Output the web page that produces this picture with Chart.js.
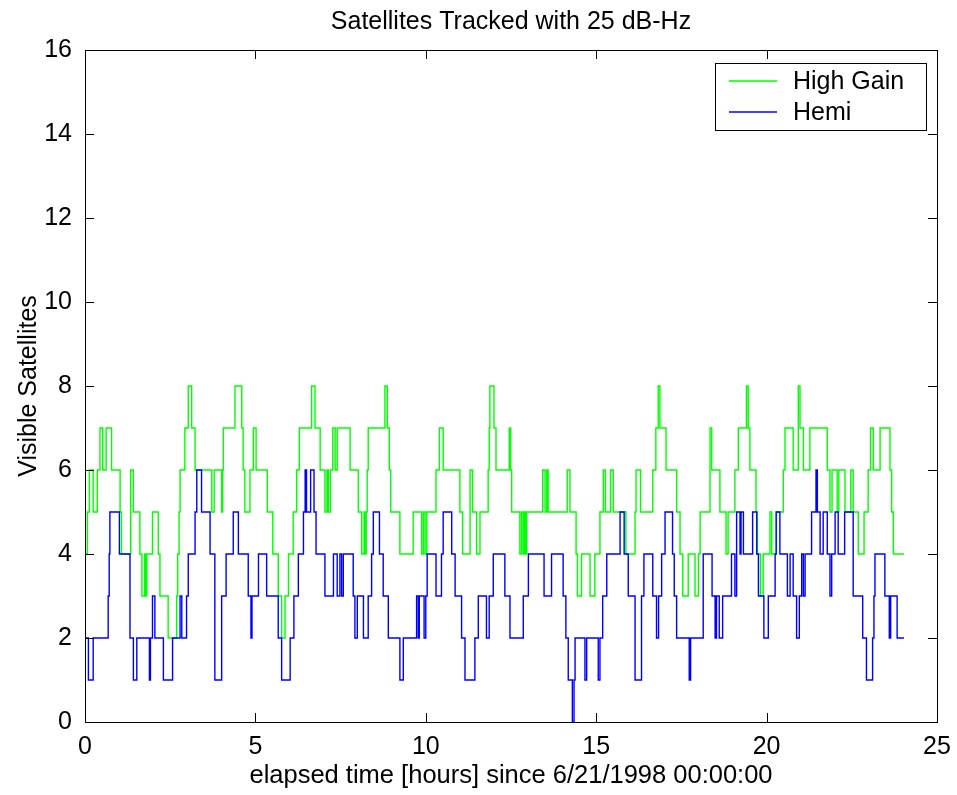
<!DOCTYPE html>
<html>
<head>
<meta charset="utf-8">
<title>Satellites Tracked with 25 dB-Hz</title>
<script src="https://cdn.jsdelivr.net/npm/chart.js@4.4.1/dist/chart.umd.min.js"></script>
<style>
  html, body { margin: 0; padding: 0; background: #fff; }
  #chart { display: block; }
</style>
</head>
<body>
<canvas id="chart" width="957" height="795"></canvas>
<script>
/* ===== DATA (change points: time in hours, value held until next point) ===== */
const TITLE = 'Satellites Tracked with 25 dB-Hz';
const X_LABEL = 'elapsed time [hours] since 6/21/1998 00:00:00';
const Y_LABEL = 'Visible Satellites';
const SERIES_NAMES = ['High Gain', 'Hemi'];
const X_TICKS = [0, 5, 10, 15, 20, 25];
const Y_TICKS = [0, 2, 4, 6, 8, 10, 12, 14, 16];

const highGainHours = [
  0, 0.07, 0.13, 0.24, 0.36, 0.44, 0.52, 0.62, 0.78, 1.03, 1.07, 1.34, 1.42, 1.61, 1.67, 1.75, 1.78,
  1.81, 1.98, 2.15, 2.2, 2.44, 2.69, 2.72, 2.76, 2.79, 2.93, 3.03, 3.13, 3.23, 3.72, 3.79, 4.01,
  4.04, 4.06, 4.4, 4.6, 4.64, 4.69, 4.84, 4.94, 5.02, 5.35, 5.51, 5.67, 5.77, 5.87, 5.97, 6.11,
  6.21, 6.29, 6.65, 6.75, 6.9, 7.04, 7.1, 7.14, 7.2, 7.27, 7.34, 7.4, 7.78, 8.02, 8.12, 8.19,
  8.22, 8.25, 8.28, 8.31, 8.8, 8.87, 8.93, 8.97, 9.24, 9.63, 9.88, 9.93, 9.98, 10.03, 10.3, 10.4,
  10.51, 11.0, 11.08, 11.3, 11.37, 11.49, 11.59, 11.83, 11.86, 11.88, 12.0, 12.06, 12.45, 12.49,
  12.52, 12.76, 12.81, 12.86, 12.9, 12.93, 12.96, 13.43, 13.5, 13.55, 13.59, 14.15, 14.23, 14.41,
  14.45, 14.57, 14.82, 14.96, 15.11, 15.21, 15.27, 15.42, 15.5, 15.87, 16.14, 16.17, 16.3, 16.66,
  16.75, 16.82, 16.87, 17.05, 17.36, 17.46, 17.54, 17.7, 17.9, 18.0, 18.05, 18.34, 18.39, 18.63,
  18.81, 18.87, 19.07, 19.17, 19.41, 19.46, 19.51, 19.69, 19.73, 19.82, 19.9, 20.1, 20.15, 20.29,
  20.49, 20.54, 20.78, 20.93, 20.98, 21.08, 21.27, 21.78, 21.86, 21.92, 22.07, 22.12, 22.3, 22.47,
  22.54, 22.69, 22.86, 22.98, 23.05, 23.13, 23.33, 23.62, 23.67, 23.72, 24.03
];
const highGainCount = [
  4, 5, 6, 5, 6, 7, 6, 7, 6, 5, 4, 6, 5, 4, 3, 4, 3,
  4, 5, 4, 3, 2, 3, 4, 5, 6, 7, 8, 7, 6, 5, 6, 5,
  6, 7, 8, 7, 6, 5, 6, 7, 6, 5, 4, 3, 2, 3, 4, 5,
  6, 7, 8, 7, 6, 5, 6, 5, 6, 7, 6, 7, 6, 5, 4, 5,
  4, 5, 6, 7, 8, 7, 6, 5, 4, 5, 4, 5, 4, 5, 6, 7,
  6, 5, 4, 6, 5, 4, 5, 6, 7, 8, 7, 6, 7, 6,
  5, 4, 5, 4, 5, 4, 5, 6, 5, 6, 5, 6, 5, 4,
  3, 4, 3, 4, 5, 6, 5, 6, 5, 4, 5, 6, 5, 6,
  7, 8, 7, 6, 5, 4, 3, 4, 3, 4, 5, 7, 6, 5,
  4, 5, 6, 7, 8, 7, 6, 5, 4, 3, 4, 5, 4, 5,
  6, 7, 6, 8, 7, 6, 7, 6, 5, 6, 5, 6, 5, 6,
  5, 4, 5, 6, 7, 6, 7, 6, 5, 4, 4
];

const hemiHours = [
  0, 0.1, 0.24, 0.68, 0.71, 0.73, 1.01, 1.32, 1.42, 1.52, 1.89, 1.92, 1.98, 2.05, 2.3, 2.57, 2.79,
  2.84, 2.98, 3.03, 3.23, 3.28, 3.42, 3.67, 3.81, 4.01, 4.14, 4.35, 4.5, 4.79, 4.87, 4.9, 5.09,
  5.33, 5.67, 5.77, 6.02, 6.13, 6.26, 6.41, 6.46, 6.5, 6.62, 6.72, 6.78, 7.04, 7.29, 7.4, 7.48,
  7.53, 7.58, 7.87, 7.92, 7.99, 8.17, 8.31, 8.41, 8.46, 8.64, 8.75, 8.9, 9.24, 9.34, 9.73, 9.78,
  9.81, 9.95, 10.0, 10.04, 10.3, 10.46, 10.51, 10.76, 10.86, 11.05, 11.15, 11.44, 11.54, 11.78,
  11.86, 11.98, 12.32, 12.47, 12.86, 13.01, 13.47, 13.69, 14.03, 14.11, 14.18, 14.3, 14.35, 14.38,
  14.67, 14.72, 15.06, 15.11, 15.19, 15.31, 15.7, 15.82, 15.94, 16.14, 16.33, 16.4, 16.66, 16.77,
  16.83, 16.92, 17.02, 17.24, 17.29, 17.36, 17.73, 17.77, 18.14, 18.4, 18.49, 18.53, 18.61, 18.71,
  18.97, 19.07, 19.12, 19.22, 19.25, 19.32, 19.59, 19.71, 19.76, 19.92, 20.05, 20.25, 20.28, 20.39,
  20.61, 20.69, 20.78, 20.88, 20.96, 21.03, 21.08, 21.13, 21.32, 21.45, 21.49, 21.57, 21.66, 21.78,
  21.86, 21.91, 22.01, 22.1, 22.29, 22.54, 22.82, 22.93, 23.11, 23.15, 23.18, 23.47, 23.6, 23.64,
  23.83, 24.03
];
const hemiCount = [
  2, 1, 2, 3, 4, 5, 4, 2, 1, 2, 1, 2, 3, 2, 1, 2, 3,
  2, 3, 4, 5, 6, 5, 4, 1, 3, 4, 5, 4, 3, 2, 3, 4,
  3, 2, 1, 2, 3, 4, 5, 6, 5, 6, 5, 4, 3, 4, 3, 4,
  3, 4, 3, 2, 3, 2, 3, 4, 5, 4, 3, 2, 1, 2, 3, 2,
  3, 2, 3, 4, 3, 4, 5, 4, 3, 2, 1, 2, 3, 2,
  3, 4, 3, 2, 3, 4, 3, 4, 3, 2, 1, 0, 1, 2,
  1, 2, 1, 2, 3, 4, 5, 4, 3, 1, 3, 4, 3, 2,
  3, 4, 5, 4, 3, 2, 1, 2, 4, 3, 2, 3, 2, 3,
  4, 3, 5, 4, 5, 4, 5, 4, 3, 2, 3, 4, 5, 4,
  3, 4, 3, 2, 3, 4, 3, 4, 5, 6, 5, 4, 5, 4,
  3, 4, 5, 4, 5, 3, 2, 1, 2, 3, 4, 3, 2, 3,
  2, 2
];

/* ===== STYLE ===== */
const FONT = '"Liberation Sans", Arial, Helvetica, sans-serif';
const FONT_SIZE = 25;
const COLORS = ['#00ff00', '#0000ff'];
const TICK_LEN = 9;

const toPoints = (xs, ys) => xs.map((x, i) => ({ x, y: ys[i] }));

/* ===== FRAME, INWARD TICKS, TITLE, LEGEND ===== */
const matlabFrame = {
  id: 'matlabFrame',
  afterDraw(chart) {
    const { ctx, chartArea: a, scales: { x, y } } = chart;
    ctx.save();
    ctx.strokeStyle = '#000';
    ctx.lineWidth = 1;

    // box
    ctx.strokeRect(Math.round(a.left) + 0.5, Math.round(a.top) + 0.5,
      Math.round(a.right - a.left), Math.round(a.bottom - a.top));

    // inward ticks on all four sides
    ctx.beginPath();
    x.ticks.forEach(t => {
      const px = Math.round(x.getPixelForValue(t.value)) + 0.5;
      ctx.moveTo(px, a.bottom); ctx.lineTo(px, a.bottom - TICK_LEN);
      ctx.moveTo(px, a.top); ctx.lineTo(px, a.top + TICK_LEN);
    });
    y.ticks.forEach(t => {
      const py = Math.round(y.getPixelForValue(t.value)) + 0.5;
      ctx.moveTo(a.left, py); ctx.lineTo(a.left + TICK_LEN, py);
      ctx.moveTo(a.right, py); ctx.lineTo(a.right - TICK_LEN, py);
    });
    ctx.stroke();

    // title centred over the plot box
    ctx.fillStyle = '#000';
    ctx.font = `${FONT_SIZE}px ${FONT}`;
    ctx.textAlign = 'center';
    ctx.textBaseline = 'middle';
    ctx.fillText(TITLE, (a.left + a.right) / 2, 22);

    // legend box, top right inside the axes
    const lx = 715, ly = 63, lw = 211, lh = 67;
    ctx.fillStyle = '#fff';
    ctx.fillRect(lx, ly, lw, lh);
    ctx.strokeRect(lx + 0.5, ly + 0.5, lw, lh);
    chart.data.datasets.forEach((ds, i) => {
      const rowY = ly + 18 + i * 31;
      ctx.strokeStyle = ds.borderColor;
      ctx.lineWidth = 1.4;
      ctx.beginPath();
      ctx.moveTo(729, rowY); ctx.lineTo(777, rowY);
      ctx.stroke();
      ctx.fillStyle = '#000';
      ctx.textAlign = 'left';
      ctx.fillText(ds.label, 793, rowY + 1);
    });
    ctx.restore();
  }
};

/* ===== CHART ===== */
new Chart(document.getElementById('chart'), {
  type: 'line',
  data: {
    datasets: [
      { label: SERIES_NAMES[0], data: toPoints(highGainHours, highGainCount), borderColor: COLORS[0], order: 1 },
      { label: SERIES_NAMES[1], data: toPoints(hemiHours, hemiCount), borderColor: COLORS[1], order: 0 },
    ]
  },
  options: {
    responsive: false,
    animation: false,
    devicePixelRatio: 1,
    layout: { padding: { top: 50, right: 20, left: 0, bottom: 0 } },
    elements: {
      line: { borderWidth: 1.4, stepped: true, tension: 0, fill: false },
      point: { radius: 0, hoverRadius: 0 },
    },
    plugins: {
      legend: { display: false },
      title: { display: false },
      tooltip: { enabled: false },
    },
    scales: {
      x: {
        type: 'linear',
        min: 0, max: 25,
        afterBuildTicks(scale) { scale.ticks = X_TICKS.map(v => ({ value: v })); },
        afterFit(scale) { scale.height = 73; scale.paddingLeft = 0; scale.paddingRight = 0; },
        grid: { display: false, drawTicks: false },
        border: { display: false },
        ticks: { color: '#000', padding: 10, maxRotation: 0, font: { family: FONT, size: FONT_SIZE } },
        title: { display: true, text: X_LABEL, color: '#000', padding: { top: 0, bottom: 4 },
                 font: { family: FONT, size: 25.5 } },
      },
      y: {
        min: 0, max: 16,
        afterBuildTicks(scale) { scale.ticks = Y_TICKS.map(v => ({ value: v })); },
        afterFit(scale) { scale.width = 85; },
        grid: { display: false, drawTicks: false },
        border: { display: false },
        ticks: { color: '#000', padding: 13, font: { family: FONT, size: FONT_SIZE } },
        title: { display: true, text: Y_LABEL, color: '#000', padding: { top: 14, bottom: 0 },
                 font: { family: FONT, size: FONT_SIZE } },
      },
    },
  },
  plugins: [matlabFrame],
});
</script>
</body>
</html>
